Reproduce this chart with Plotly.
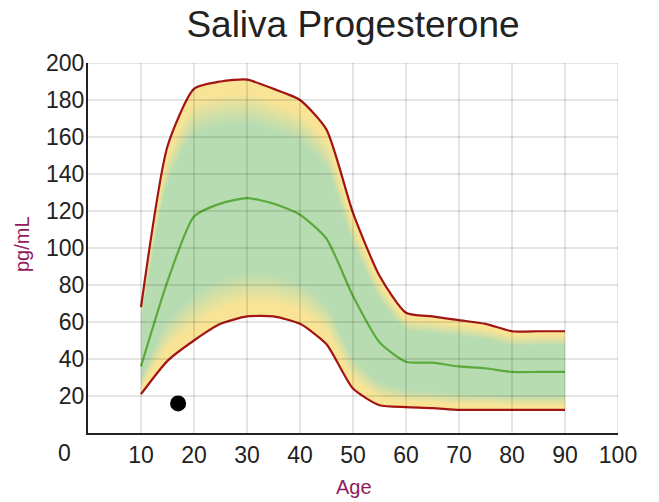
import plotly.graph_objects as go

# ---- data ----
ages = [10, 15, 20, 25, 30, 35, 40, 45, 50, 55, 60, 65, 70, 75, 80, 85, 90]
upper = [68, 155, 186, 190, 191, 186, 180, 164, 119, 85, 65, 63, 61, 59, 55, 55, 55]
median = [36, 82, 117, 124, 127, 124, 118, 105, 74, 49, 38.5, 38, 36, 35, 33, 33, 33]
lower = [21, 39, 50, 59, 63, 63, 59, 48, 24, 15, 14, 13.5, 12.5, 12.5, 12.5, 12.5, 12.5]
patient_age = [17]
patient_value = [16]

x_ticks = [10, 20, 30, 40, 50, 60, 70, 80, 90, 100]
y_ticks = [20, 40, 60, 80, 100, 120, 140, 160, 180, 200]

FONT = "Liberation Sans, Arial, sans-serif"
YELLOW = (249, 228, 150)
GREEN = (184, 220, 177)
RED = "#a31515"
MID = "#5aab3c"
TITLE_COLOR = "#8e1b5b"

W, H = 659, 502

fig = go.Figure()

# gradient band: nested layers from the outer (yellow) edge inward (green)
steps = [i * 0.01 for i in range(0, 21)]
for t in steps:
    w = min(max((t - 0.05) / 0.13, 0.0), 1.0)
    c = tuple(round(YELLOW[j] * (1 - w) + GREEN[j] * w) for j in range(3))
    col = "rgb(%d,%d,%d)" % c
    lo = [l + t * (u - l) for l, u in zip(lower, upper)]
    hi = [u - t * (u - l) for l, u in zip(lower, upper)]
    fig.add_trace(go.Scatter(x=ages, y=lo, mode="lines", line=dict(width=0, shape="spline", smoothing=0.6),
                             hoverinfo="skip", showlegend=False))
    fig.add_trace(go.Scatter(x=ages, y=hi, mode="lines", fill="tonexty", fillcolor=col,
                             line=dict(width=0, shape="spline", smoothing=0.6),
                             hoverinfo="skip", showlegend=False))

for ys, colr in [(upper, RED), (lower, RED), (median, MID)]:
    fig.add_trace(go.Scatter(x=ages, y=ys, mode="lines",
                             line=dict(color=colr, width=2.2, shape="spline", smoothing=0.6),
                             showlegend=False))

fig.add_trace(go.Scatter(x=patient_age, y=patient_value, mode="markers",
                         marker=dict(color="black", size=16), showlegend=False))

# grid lines drawn above the band so they show through it
for xv in x_ticks:
    fig.add_shape(type="line", xref="x", yref="y", x0=xv, x1=xv, y0=0, y1=200,
                  line=dict(color="rgba(0,0,0,0.1)", width=2), layer="above")
for yv in y_ticks:
    fig.add_shape(type="line", xref="x", yref="y", x0=0, x1=100, y0=yv, y1=yv,
                  line=dict(color="rgba(0,0,0,0.1)", width=2), layer="above")

fig.update_layout(
    width=W, height=H,
    margin=dict(l=88, r=41, t=63, b=69),
    paper_bgcolor="white", plot_bgcolor="white",
    font=dict(family=FONT, color="#222222"),
    title=dict(text="Saliva Progesterone", x=0.5, xref="paper", y=1 - 24 / H, yanchor="middle",
               font=dict(size=37, color="#222222", family=FONT)),
    xaxis=dict(range=[0, 100], tickvals=x_ticks, showgrid=False, zeroline=False,
               showline=True, linecolor="#222222", linewidth=2, ticks="",
               tickfont=dict(size=23, color="#222222")),
    yaxis=dict(range=[0, 200], tickvals=y_ticks, showgrid=False, zeroline=False,
               showline=True, linecolor="#222222", linewidth=2, ticks="",
               ticklabelstandoff=-3,
               tickfont=dict(size=23, color="#222222")),
    annotations=[
        dict(text="0", xref="paper", yref="paper", x=(64 - 88) / 530, y=(433 - 453) / 370,
             showarrow=False, xanchor="center", yanchor="middle", font=dict(size=23, color="#222222")),
        dict(text="Age", xref="paper", yref="paper", x=(354 - 88) / 530, y=(433 - 487) / 370,
             showarrow=False, xanchor="center", yanchor="middle", font=dict(size=20, color=TITLE_COLOR)),
        dict(text="pg/mL", xref="paper", yref="paper", x=(22 - 88) / 530, y=(433 - 244) / 370,
             showarrow=False, textangle=-90, xanchor="center", yanchor="middle",
             font=dict(size=20, color=TITLE_COLOR)),
    ],
)

fig.write_html("out.html", config={"displayModeBar": False},
               post_script="document.body.style.margin='0';document.body.style.overflow='hidden';")
